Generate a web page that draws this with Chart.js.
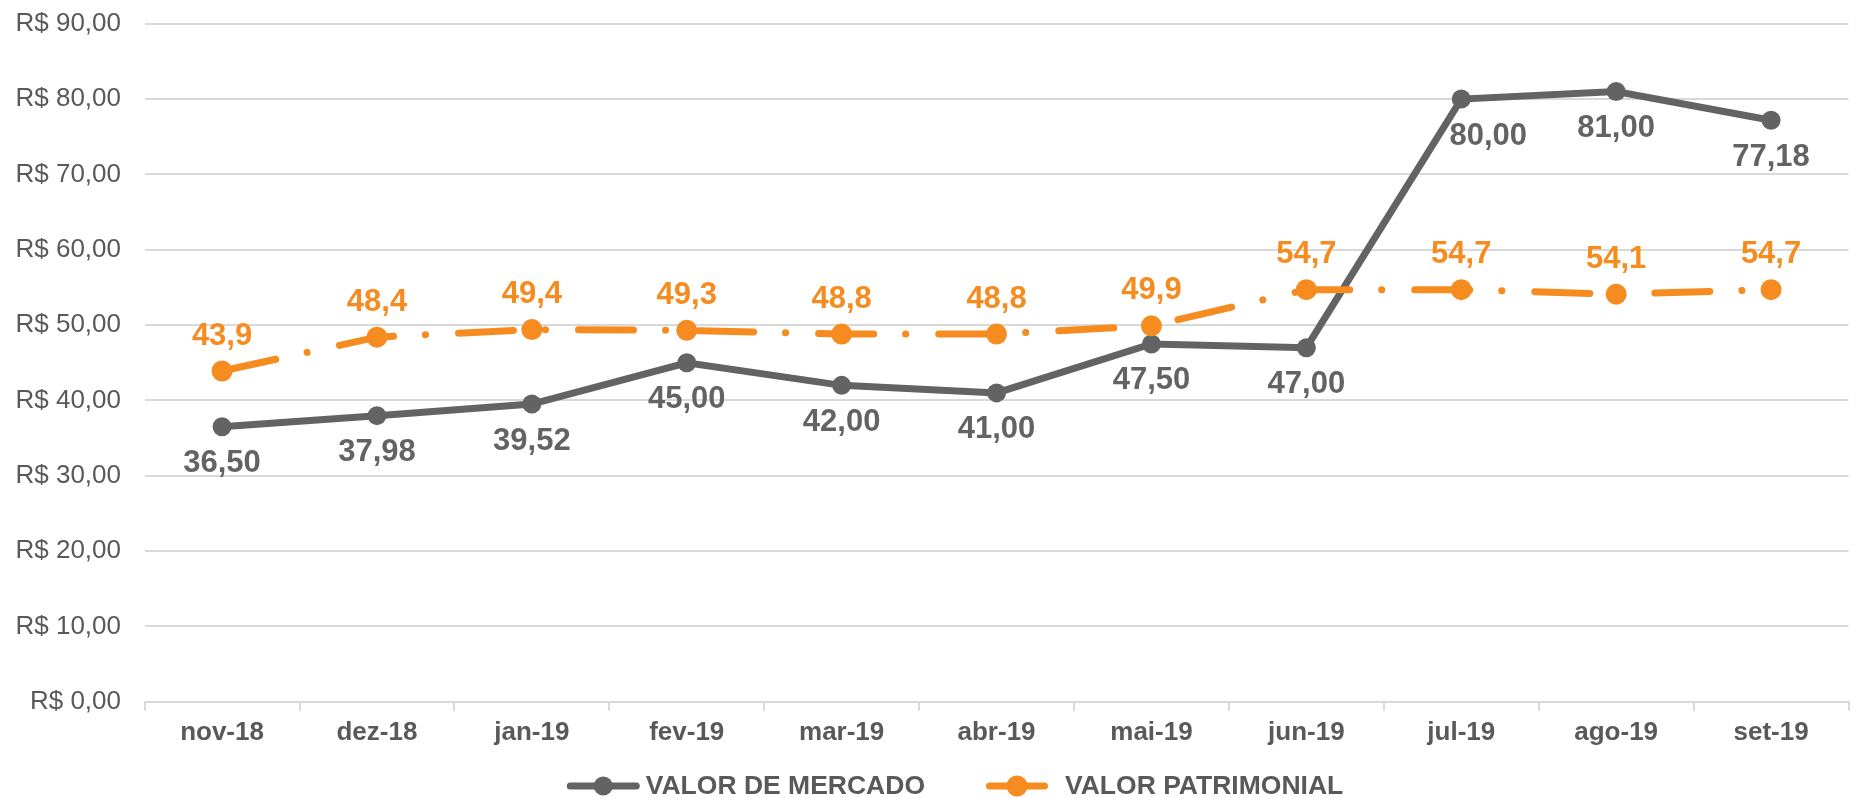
<!DOCTYPE html>
<html><head><meta charset="utf-8">
<script src="https://cdn.jsdelivr.net/npm/chart.js@4.4.1/dist/chart.umd.min.js"></script>
<style>html,body{margin:0;padding:0;background:#fff;overflow:hidden}canvas{display:block}</style>
</head><body>
<canvas id="c" width="1859" height="798" style="width:1859px;height:798px"></canvas>
<script>
const categories = ['nov-18','dez-18','jan-19','fev-19','mar-19','abr-19','mai-19','jun-19','jul-19','ago-19','set-19'];
const valorMercado = [36.50, 37.98, 39.52, 45.00, 42.00, 41.00, 47.50, 47.00, 80.00, 81.00, 77.18];
const valorPatrimonial = [43.9, 48.4, 49.4, 49.3, 48.8, 48.8, 49.9, 54.7, 54.7, 54.1, 54.7];
const seriesNames = ['VALOR DE MERCADO', 'VALOR PATRIMONIAL'];
const yMin = 0, yMax = 90, yStep = 10;

const GRAY = '#636363', ORANGE = '#F68B1F', TEXT = '#595959', GRID = '#d9d9d9';
const FONT = '"Liberation Sans", Arial, sans-serif';
const fmt = (v, d) => v.toFixed(d).replace('.', ',');

const dataLabelPlugin = {
  id: 'dataLabels',
  afterDatasetsDraw(chart) {
    const ctx = chart.ctx;
    chart.data.datasets.forEach((ds, i) => {
      const meta = chart.getDatasetMeta(i);
      const o = ds.labelOpts;
      ctx.save();
      ctx.font = 'bold 31px ' + FONT;
      ctx.fillStyle = o.color;
      ctx.textAlign = 'center';
      ctx.textBaseline = 'middle';
      meta.data.forEach((pt, j) => {
        const dx = (o.dx && o.dx[j]) || 0;
        ctx.fillText(fmt(ds.data[j], o.decimals), pt.x + dx, pt.y + o.dy);
      });
      ctx.restore();
    });
  }
};

const legendPlugin = {
  id: 'customLegend',
  afterDraw(chart) {
    const ctx = chart.ctx;
    const o = chart.options.plugins.customLegend;
    ctx.save();
    ctx.font = 'bold 26.5px ' + FONT;
    const items = chart.data.datasets.map((ds, i) => ({
      text: ds.label, color: ds.borderColor, r: ds.pointRadius,
      lineLen: o.lineLen[i], tw: ctx.measureText(ds.label).width
    }));
    let total = 0;
    items.forEach((it, i) => { total += it.lineLen + o.textGap[i] + it.tw + (i < items.length - 1 ? o.itemGap : 0); });
    let x = o.centerX - total / 2;
    const y = o.y;
    items.forEach((it, i) => {
      ctx.strokeStyle = it.color; ctx.lineWidth = 7; ctx.lineCap = 'round';
      ctx.beginPath(); ctx.moveTo(x + 3.5, y); ctx.lineTo(x + it.lineLen - 3.5, y); ctx.stroke();
      ctx.fillStyle = it.color;
      ctx.beginPath(); ctx.arc(x + it.lineLen / 2, y, it.r, 0, Math.PI * 2); ctx.fill();
      x += it.lineLen + o.textGap[i];
      ctx.fillStyle = TEXT; ctx.textAlign = 'left'; ctx.textBaseline = 'middle';
      ctx.fillText(it.text, x, y + 1);
      x += it.tw + o.itemGap;
    });
    ctx.restore();
  }
};

new Chart(document.getElementById('c'), {
  type: 'line',
  data: {
    labels: categories,
    datasets: [
      {
        label: seriesNames[0], data: valorMercado,
        borderColor: GRAY, backgroundColor: GRAY, borderWidth: 7,
        pointRadius: 9.5, pointHoverRadius: 9.5, pointBackgroundColor: GRAY, pointBorderWidth: 0,
        tension: 0, order: 1,
        labelOpts: { color: GRAY, dy: 37, decimals: 2, dx: { 8: 27 } }
      },
      {
        label: seriesNames[1], data: valorPatrimonial,
        borderColor: ORANGE, backgroundColor: ORANGE, borderWidth: 7,
        borderDash: [55, 32, 0.1, 33], borderCapStyle: 'round',
        pointRadius: 10.5, pointHoverRadius: 10.5, pointBackgroundColor: ORANGE, pointBorderWidth: 0,
        tension: 0, order: 0,
        labelOpts: { color: ORANGE, dy: -35, decimals: 1 }
      }
    ]
  },
  options: {
    responsive: false,
    animation: false,
    layout: { padding: { top: 23.7, bottom: 44, left: 0, right: 0 } },
    plugins: {
      legend: { display: false },
      tooltip: { enabled: false },
      customLegend: { centerX: 955, y: 786, lineLen: [73, 62], textGap: [6, 17], itemGap: 61 }
    },
    scales: {
      x: {
        offset: true,
        grid: { offset: true, drawOnChartArea: false, drawTicks: true, tickLength: 9, color: GRID, lineWidth: 2 },
        border: { display: true, color: GRID, width: 2 },
        ticks: { font: { family: FONT, size: 26, weight: 'bold' }, color: TEXT, padding: 6, maxRotation: 0, autoSkip: false }
      },
      y: {
        min: yMin, max: yMax,
        afterFit(scale) { scale.width = 144.6; },
        grid: { color: GRID, lineWidth: 2, drawTicks: true, tickLength: 23.6, tickColor: 'rgba(0,0,0,0)' },
        border: { display: false },
        ticks: {
          stepSize: yStep, padding: 0, color: TEXT,
          font: { family: FONT, size: 26 },
          callback: v => 'R$ ' + fmt(v, 2)
        }
      }
    }
  },
  plugins: [dataLabelPlugin, legendPlugin]
});
</script>
</body></html>
